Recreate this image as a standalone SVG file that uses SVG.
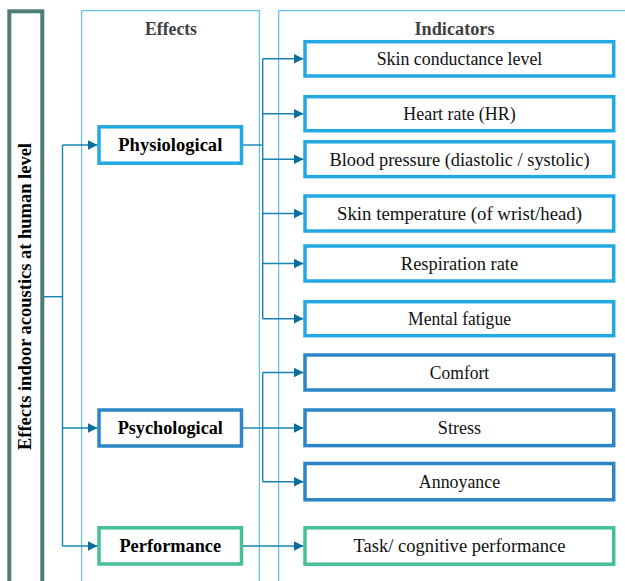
<svg xmlns="http://www.w3.org/2000/svg" width="625" height="581" viewBox="0 0 625 581">
<defs>
<style>
.col{fill:none;stroke:#3db2e8;stroke-width:1}
.bx{fill:#fff;stroke-width:3.5}
.phy{stroke:#23a9e1}
.psy{stroke:#2b85c7}
.per{stroke:#44bf96}
.hd{font-family:"Liberation Serif",serif;font-weight:bold;font-size:18px;fill:#404040;text-anchor:middle}
.lb{font-family:"Liberation Serif",serif;font-weight:bold;font-size:18px;fill:#000;text-anchor:middle}
.tx{font-family:"Liberation Serif",serif;font-size:18px;fill:#111;text-anchor:middle}
.cn{fill:none;stroke:#1683b5;stroke-width:1.4}
.ar{fill:none;stroke:#1683b5;stroke-width:1.4;marker-end:url(#ah)}
</style>
<marker id="ah" markerUnits="userSpaceOnUse" markerWidth="10" markerHeight="10" refX="10" refY="5" orient="auto">
<path d="M0,0 L10,5 L0,10 z" fill="#0a6e9b"/>
</marker>
</defs>
<rect width="625" height="581" fill="#fff"/>

<g id="columns">
<rect class="col" x="81.7" y="10.7" width="177.6" height="600"/>
<rect class="col" x="278.7" y="10.7" width="400" height="600"/>
<text class="hd" x="171" y="35" textLength="52" lengthAdjust="spacingAndGlyphs">Effects</text>
<text class="hd" x="454.5" y="35" textLength="80" lengthAdjust="spacingAndGlyphs">Indicators</text>
</g>

<g id="root">
<rect x="9.3" y="11.3" width="33" height="600" fill="#fff" stroke="#4e7d78" stroke-width="4"/>
<text class="lb" transform="translate(31,296.5) rotate(-90)" textLength="307" lengthAdjust="spacingAndGlyphs">Effects indoor acoustics at human level</text>
</g>

<g id="connectors">
<polyline class="cn" points="44,296.7 62.5,296.7"/>
<polyline class="cn" points="62.5,145 62.5,546"/>
<polyline class="ar" points="62.5,145 97.5,145"/>
<polyline class="ar" points="62.5,428 97.5,428"/>
<polyline class="ar" points="62.5,546 97.5,546"/>
<polyline class="cn" points="243,145 262.7,145"/>
<polyline class="cn" points="262.7,58.8 262.7,318.7"/>
<polyline class="ar" points="262.7,58.8 303.5,58.8"/>
<polyline class="ar" points="262.7,113.7 303.5,113.7"/>
<polyline class="ar" points="262.7,159.2 303.5,159.2"/>
<polyline class="ar" points="262.7,213.5 303.5,213.5"/>
<polyline class="ar" points="262.7,263.5 303.5,263.5"/>
<polyline class="ar" points="262.7,318.7 303.5,318.7"/>
<polyline class="cn" points="243,428 262.7,428"/>
<polyline class="cn" points="262.7,372.5 262.7,481.7"/>
<polyline class="ar" points="262.7,372.5 303.5,372.5"/>
<polyline class="ar" points="262.7,428 303.5,428"/>
<polyline class="ar" points="262.7,481.7 303.5,481.7"/>
<polyline class="ar" points="243,546 303.5,546"/>
</g>

<g id="physiological">
<rect class="bx phy" x="99" y="126.8" width="142.5" height="36.4"/>
<text class="lb" x="170.3" y="150.5" textLength="104" lengthAdjust="spacingAndGlyphs">Physiological</text>
</g>
<g id="psychological">
<rect class="bx psy" x="99" y="410" width="142.5" height="36"/>
<text class="lb" x="170.3" y="433.5" textLength="105.3" lengthAdjust="spacingAndGlyphs">Psychological</text>
</g>
<g id="performance">
<rect class="bx per" x="99" y="527.8" width="142.5" height="36.2"/>
<text class="lb" x="170.3" y="551.5" textLength="101.7" lengthAdjust="spacingAndGlyphs">Performance</text>
</g>

<g id="skin-conductance">
<rect class="bx phy" x="305" y="41.7" width="308.7" height="34.3"/>
<text class="tx" x="459.5" y="65.2" textLength="165.7" lengthAdjust="spacingAndGlyphs">Skin conductance level</text>
</g>
<g id="heart-rate">
<rect class="bx phy" x="305" y="96.7" width="308.7" height="34"/>
<text class="tx" x="459.5" y="120" textLength="112.3" lengthAdjust="spacingAndGlyphs">Heart rate (HR)</text>
</g>
<g id="blood-pressure">
<rect class="bx phy" x="305" y="141.8" width="308.7" height="34.8"/>
<text class="tx" x="459.5" y="165.5" textLength="260" lengthAdjust="spacingAndGlyphs">Blood pressure (diastolic / systolic)</text>
</g>
<g id="skin-temperature">
<rect class="bx phy" x="305" y="196" width="308.7" height="35"/>
<text class="tx" x="459.5" y="219.8" textLength="245" lengthAdjust="spacingAndGlyphs">Skin temperature (of wrist/head)</text>
</g>
<g id="respiration">
<rect class="bx phy" x="305" y="246" width="308.7" height="35"/>
<text class="tx" x="459.5" y="269.8" textLength="117.3" lengthAdjust="spacingAndGlyphs">Respiration rate</text>
</g>
<g id="mental-fatigue">
<rect class="bx phy" x="305" y="301.7" width="308.7" height="34"/>
<text class="tx" x="459.5" y="325" textLength="103" lengthAdjust="spacingAndGlyphs">Mental fatigue</text>
</g>
<g id="comfort">
<rect class="bx psy" x="305" y="355" width="308.7" height="35"/>
<text class="tx" x="459.5" y="378.8" textLength="59.3" lengthAdjust="spacingAndGlyphs">Comfort</text>
</g>
<g id="stress">
<rect class="bx psy" x="305" y="410" width="308.7" height="35.6"/>
<text class="tx" x="459.5" y="434.1" textLength="43.3" lengthAdjust="spacingAndGlyphs">Stress</text>
</g>
<g id="annoyance">
<rect class="bx psy" x="305" y="463.5" width="308.7" height="36.3"/>
<text class="tx" x="459.5" y="488" textLength="81.3" lengthAdjust="spacingAndGlyphs">Annoyance</text>
</g>
<g id="task-performance">
<rect class="bx per" x="305" y="527.8" width="308.7" height="36.4"/>
<text class="tx" x="459.5" y="552.3" textLength="212" lengthAdjust="spacingAndGlyphs">Task/ cognitive performance</text>
</g>
</svg>
